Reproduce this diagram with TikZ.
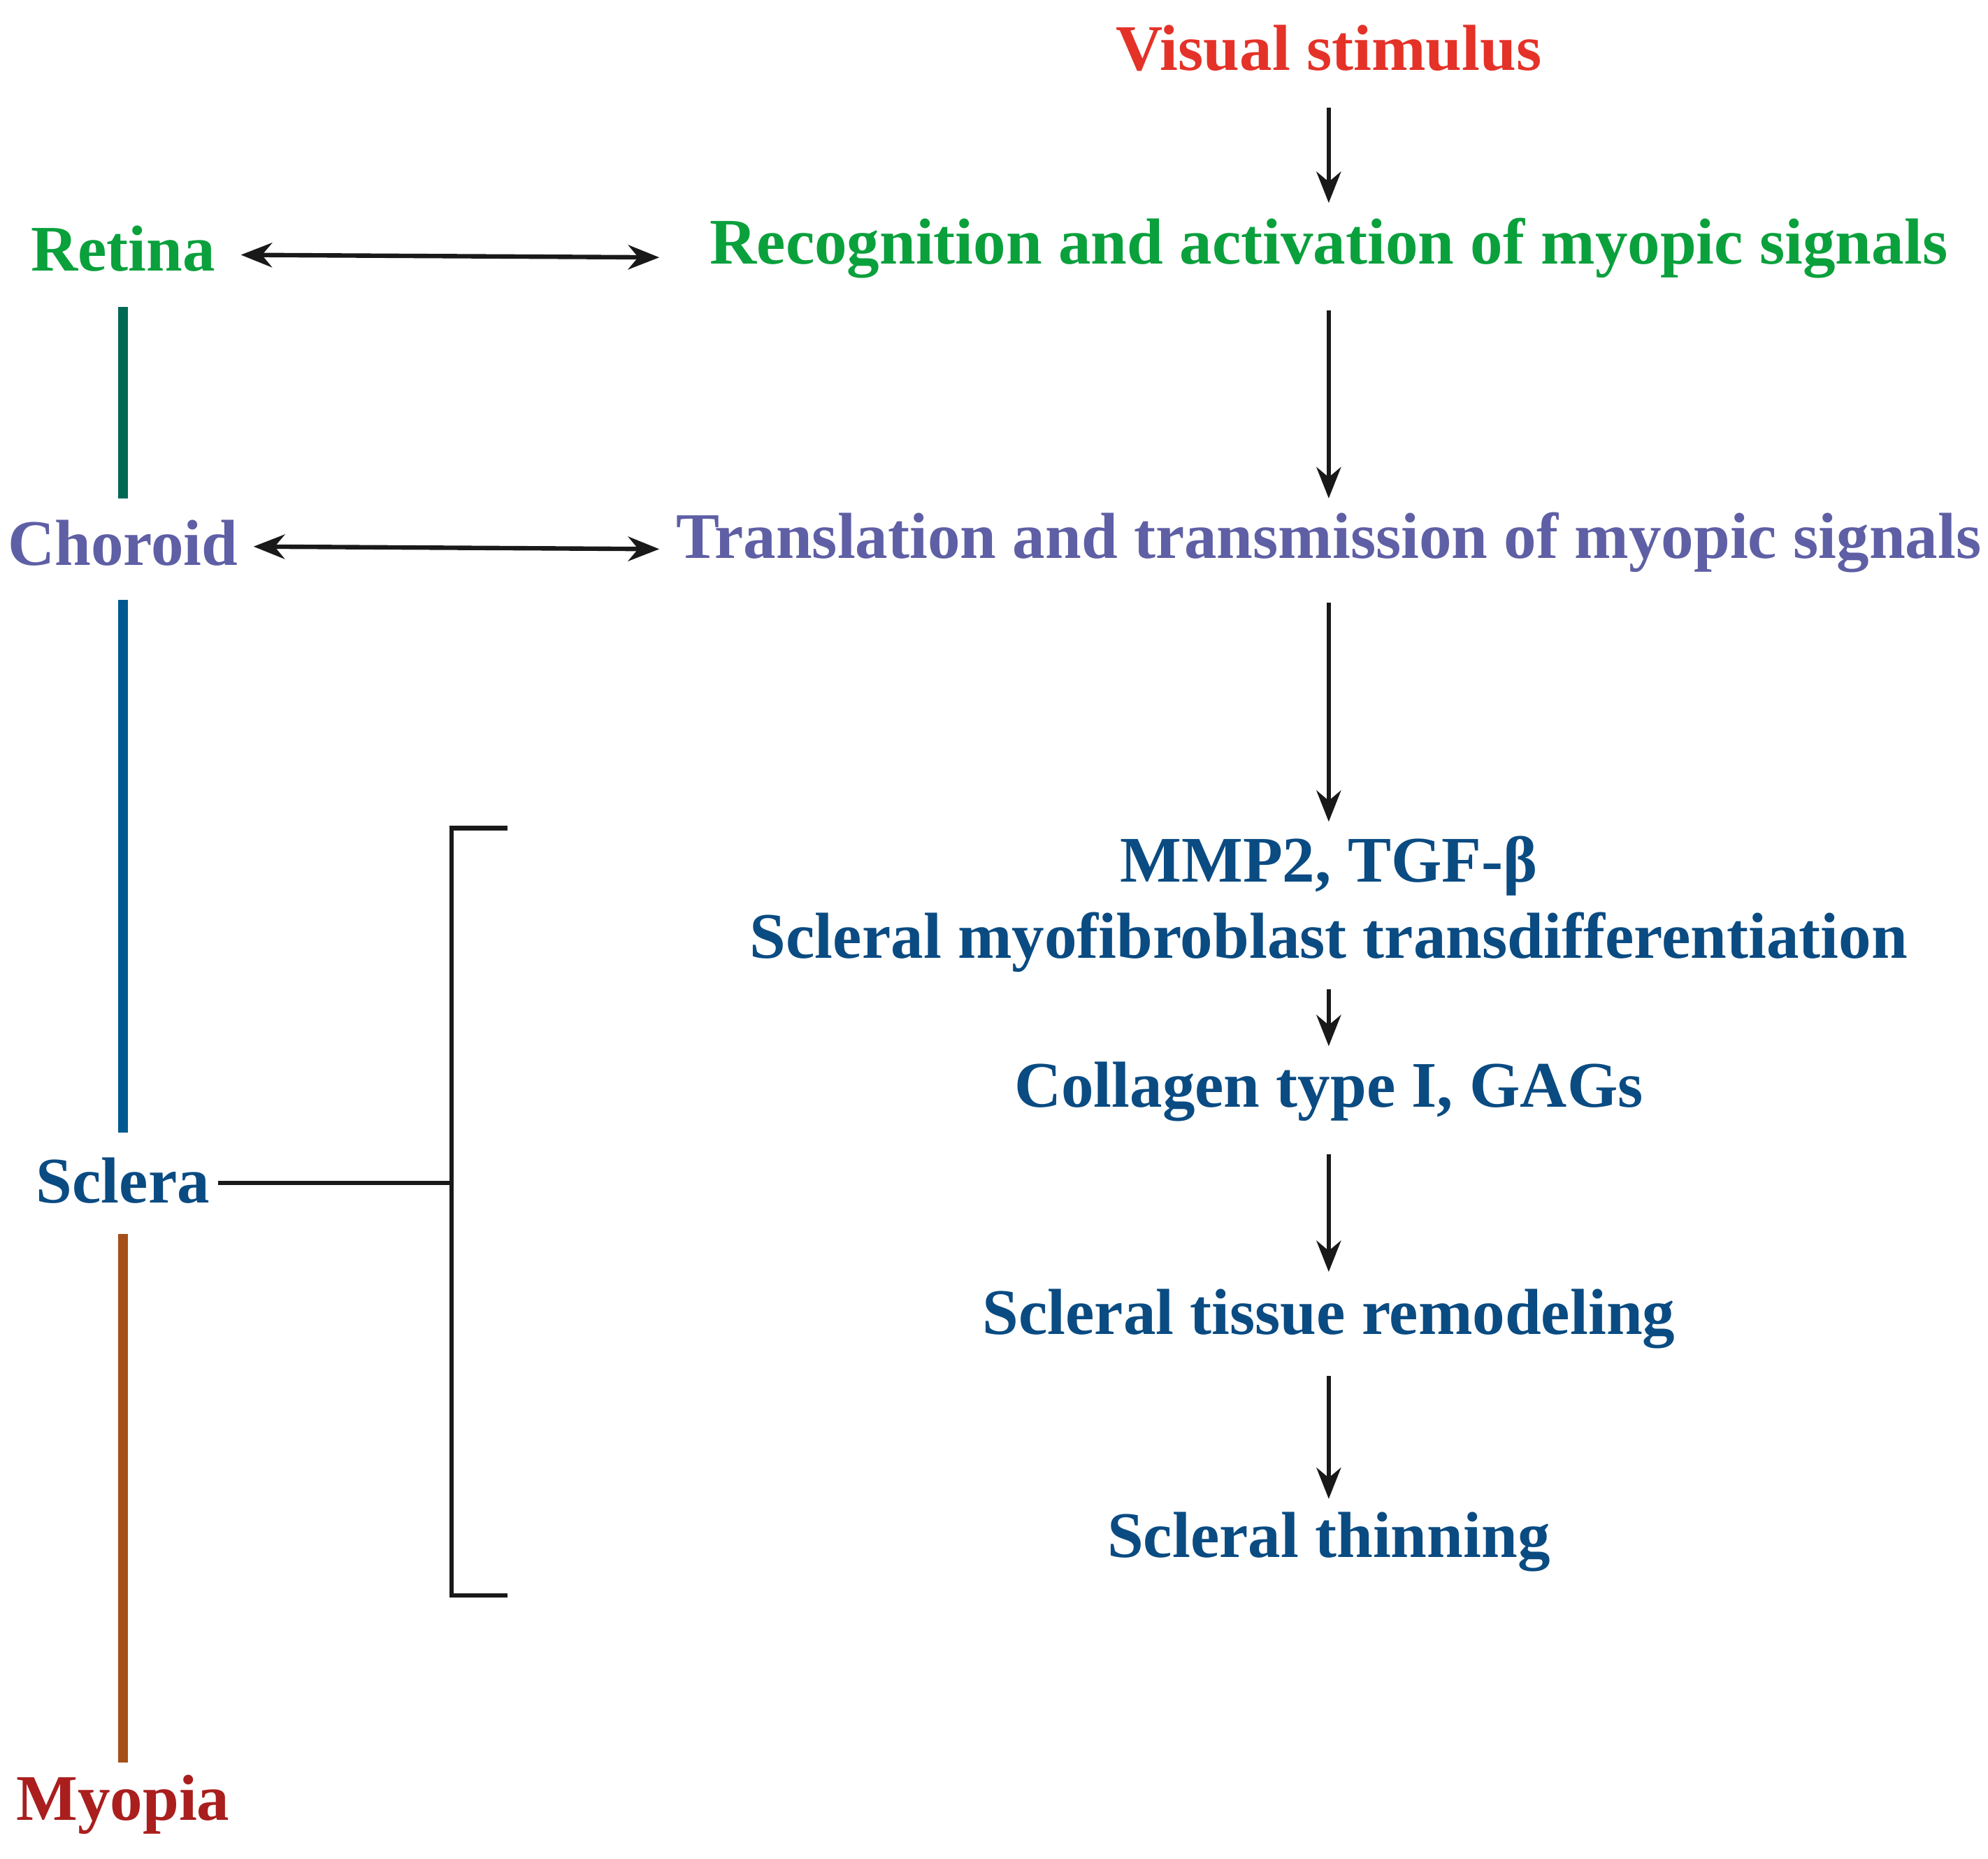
\documentclass[tikz,border=0pt]{standalone}
\usepackage{fontspec}
\setmainfont{Liberation Serif}
\usetikzlibrary{arrows.meta}
\definecolor{stimRed}{RGB}{228,50,40}
\definecolor{retGreen}{RGB}{10,160,60}
\definecolor{chorPurple}{RGB}{95,95,165}
\definecolor{sclBlue}{RGB}{10,75,130}
\definecolor{myoRed}{RGB}{170,30,30}
\definecolor{barTeal}{RGB}{0,105,85}
\definecolor{barBlue}{RGB}{0,90,145}
\definecolor{barBrown}{RGB}{165,80,25}
\tikzset{
  lbl/.style = {font=\fontsize{29.2}{33}\selectfont\bfseries, inner sep=2pt},
  flow/.style = {-{Stealth[length=14pt,width=11pt]}, line width=2pt, black!90},
  both/.style = {{Stealth[length=14pt,width=11pt]}-{Stealth[length=14pt,width=11pt]}, line width=2pt, black!90},
  bar/.style = {line width=4.5pt},
  brk/.style = {line width=2pt, black!90}
}
\begin{document}
\begin{tikzpicture}[x=0.02cm,y=-0.02cm]
\useasboundingbox (0,0) rectangle (1568,1466);
% right column
\node[lbl, text=stimRed] (stim) at (1048,38) {Visual stimulus};
\node[lbl, text=retGreen] (recog) at (1048,196) {Recognition and activation of myopic signals};
\node[lbl, text=chorPurple] (trans) at (1048,428) {Translation and transmission of myopic signals};
\node[lbl, text=sclBlue] (mmp) at (1048,683) {MMP2, TGF-β};
\node[lbl, text=sclBlue] (myofib) at (1048,743) {Scleral myofibroblast transdifferentiation};
\node[lbl, text=sclBlue] (coll) at (1048,861) {Collagen type I, GAGs};
\node[lbl, text=sclBlue] (remod) at (1048,1040) {Scleral tissue remodeling};
\node[lbl, text=sclBlue] (thin) at (1048,1216) {Scleral thinning};
% left column
\node[lbl, text=retGreen] (ret) at (97,196) {Retina};
\node[lbl, text=chorPurple] (chor) at (97,428) {Choroid};
\node[lbl, text=sclBlue] (scl) at (97,931) {Sclera};
\node[lbl, text=myoRed] (myo) at (97,1423) {Myopia};
% vertical flow
\coordinate (a1) at (1048,85);   \coordinate (b1) at (1048,160);
\coordinate (a2) at (1048,245);  \coordinate (b2) at (1048,393);
\coordinate (a3) at (1048,475);  \coordinate (b3) at (1048,648);
\coordinate (a4) at (1048,780);  \coordinate (b4) at (1048,825);
\coordinate (a5) at (1048,910);  \coordinate (b5) at (1048,1003);
\coordinate (a6) at (1048,1085); \coordinate (b6) at (1048,1182);
\foreach \i in {1,...,6}
  \draw[flow] (a\i) -- (b\i);
% links
\coordinate (r1) at (190,201); \coordinate (r2) at (520,203);
\coordinate (c1) at (200,431); \coordinate (c2) at (520,433);
\draw[both] (r1) -- (r2);
\draw[both] (c1) -- (c2);
% layer bars
\draw[bar, barTeal] (97,242) -- (97,393);
\draw[bar, barBlue] (97,473) -- (97,893);
\draw[bar, barBrown] (97,973) -- (97,1390);
% bracket
\coordinate (bt) at (356,653); \coordinate (bb) at (356,1258);
\draw[brk] (400,653) -- (bt) -- (bb) -- (400,1258);
\draw[brk] (172,933) -- (bt |- 0,933);
\end{tikzpicture}
\end{document}
